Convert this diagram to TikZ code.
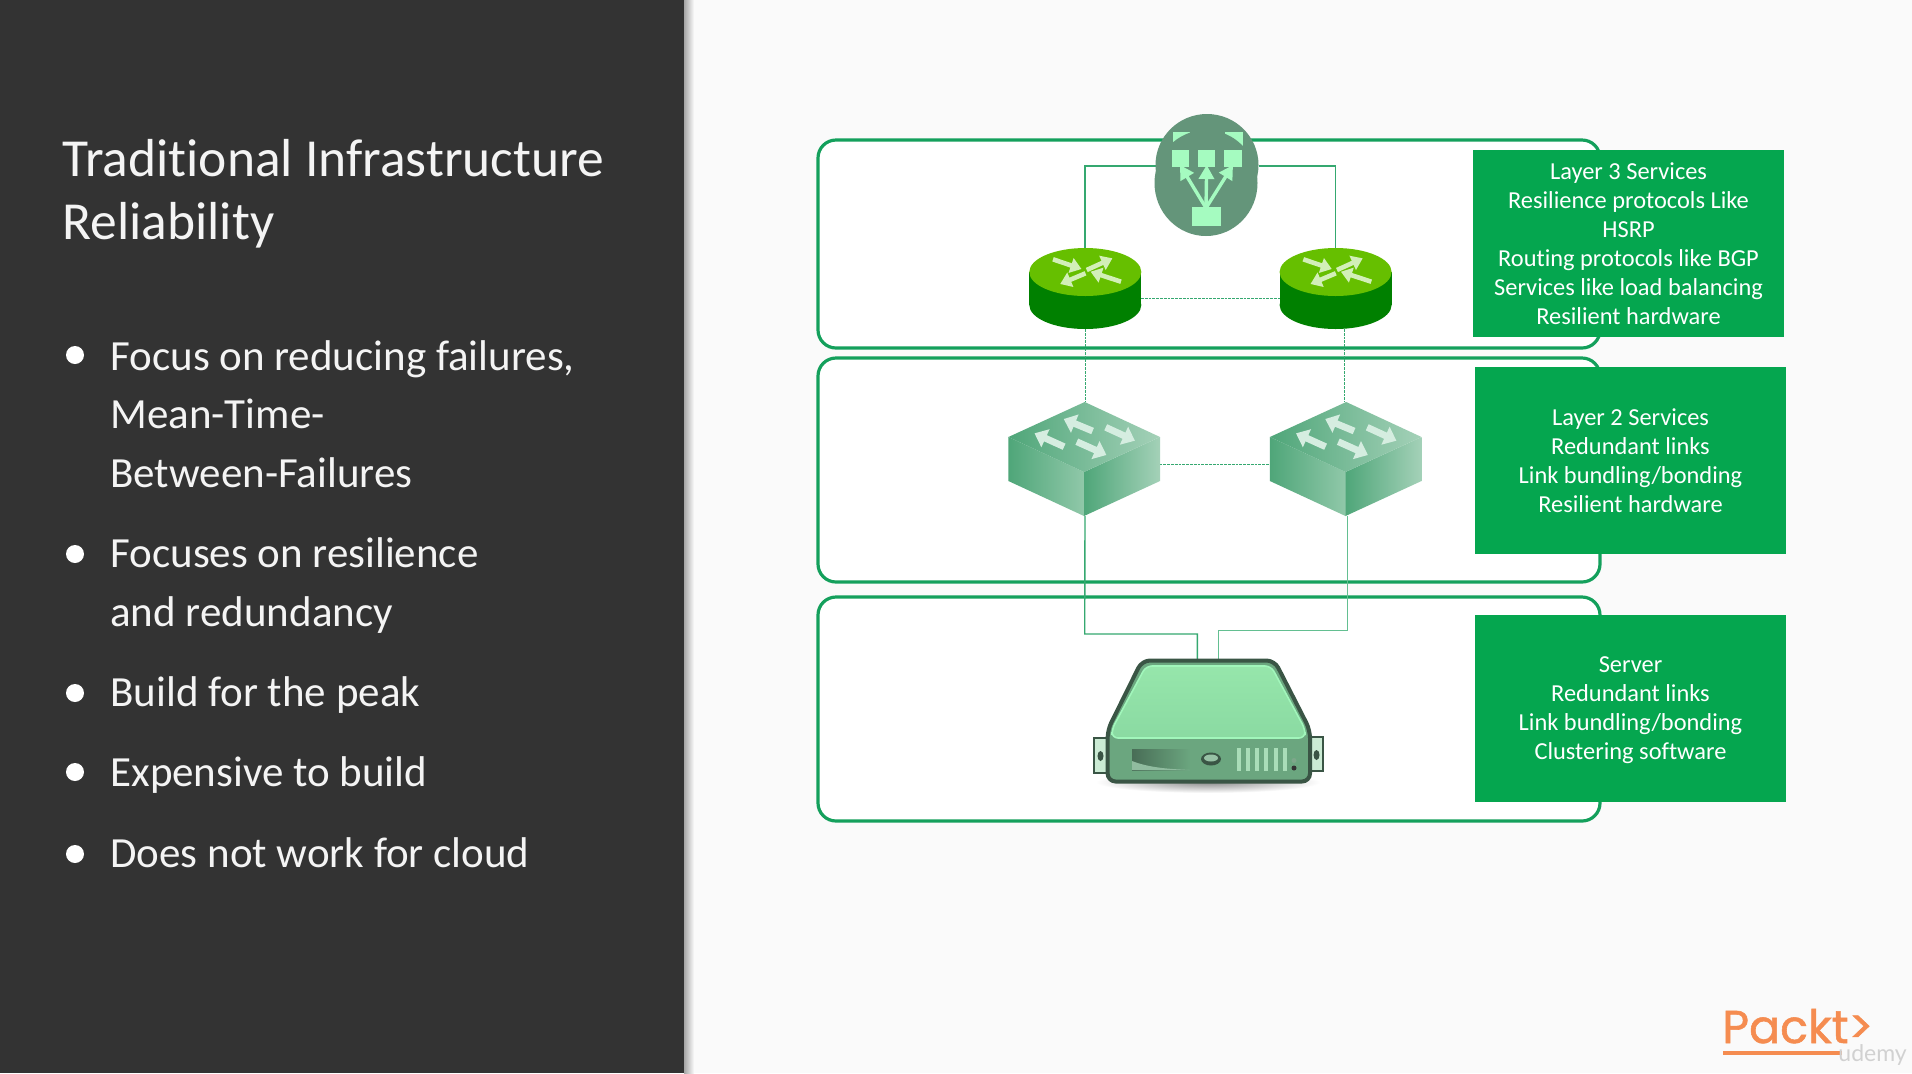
\documentclass[tikz,border=0pt]{standalone}
\usepackage{fontspec}
\setmainfont[Ligatures=NoCommon]{Carlito}
\newfontfamily\logofont[FakeBold=1.2]{Poppins}
\newfontfamily\wmfont{Lato}
\usetikzlibrary{arrows.meta}
\definecolor{panelc}{HTML}{333333}
\definecolor{bgc}{HTML}{FAFAFA}
\definecolor{boxline}{HTML}{14A05C}
\definecolor{greenbox}{HTML}{05A64F}
\definecolor{wire}{HTML}{35A870}
\definecolor{wirel}{HTML}{63BF91}
\definecolor{lbc}{HTML}{64957A}
\definecolor{lbsq}{HTML}{A5FBC0}
\definecolor{rtop}{HTML}{66BF00}
\definecolor{rbody}{HTML}{008000}
\definecolor{rarrow}{HTML}{D2EFB8}
\definecolor{swarrow}{HTML}{D5EDE0}
\definecolor{swdark}{HTML}{4FA679}
\definecolor{swmid}{HTML}{90C8A9}
\definecolor{swlight}{HTML}{A4D1B8}
\definecolor{srvdark}{HTML}{3A5545}
\definecolor{srvtop}{HTML}{96E6AB}
\definecolor{srvtopb}{HTML}{8ADAA2}
\definecolor{srvfront}{HTML}{6BA67F}
\definecolor{srvgrill}{HTML}{A9DDB8}
\definecolor{logoc}{HTML}{F58C50}
\definecolor{txtc}{HTML}{F4F4F4}
\tikzset{
  x=0.5pt,y=-0.5pt,
  layerbox/.style={draw=boxline,line width=1.6pt,fill=white,rounded corners=9pt},
  infofont/.style={text=white,align=center,inner sep=0pt,font=\fontsize{12.2}{14.5}\selectfont},
  infobox/.style={infofont,fill=greenbox,minimum width=155.5pt,minimum height=93.5pt},
  anchorbox/.style={inner sep=0pt,outer sep=0pt,draw=none},
  bullettext/.style={anchor=west,align=left,text=txtc,inner sep=0pt,font=\fontsize{21.5}{29.3}\selectfont},
  titletext/.style={anchor=base west,text=txtc,inner sep=0pt,font=\fontsize{26.75}{31}\selectfont},
  dot/.style={circle,fill=white,inner sep=0pt,minimum size=9pt},
  wireline/.style={draw=wire,line width=0.7pt},
  wirelight/.style={draw=wirel,line width=0.7pt},
  wiredash/.style={draw=wire,line width=0.5pt,dash pattern=on 1.4pt off 0.5pt},
  lbarrow/.style={draw=lbsq,line width=1.7pt,-{Triangle[length=7pt,width=7.5pt]}},
  rtarrow/.style={draw=rarrow,line width=2.3pt,-{Triangle[length=5.5pt,width=7.5pt]}},
  swarr/.style={draw=swarrow,line width=3.4pt,-{Triangle[length=6pt,width=9.5pt]}},
}
\begin{document}
\begin{tikzpicture}
\useasboundingbox (0,0) rectangle (1912,1073);
\fill[bgc] (0,0) rectangle (1912,1073);
% panel shadow and panel
\shade[left color=black!35,right color=bgc] (684,0) rectangle (694,1073);
\fill[panelc] (0,0) rectangle (684,1073);
% title
\node[titletext] (title1) at (62,176) {Traditional Infrastructure};
\node[titletext] (title2) at (62,239) {Reliability};
% bullets
\node[dot] (b1) at (75,355) {};
\node[bullettext] (t1) at (110,414) {Focus on reducing failures,\\Mean-Time-\\Between-Failures};
\node[dot] (b2) at (75,554) {};
\node[bullettext] (t2) at (110,585.5) {Focuses on resilience\\and redundancy};
\node[dot] (b3) at (75,693) {};
\node[bullettext] (t3) at (110,695.5) {Build for the peak};
\node[dot] (b4) at (75,772) {};
\node[bullettext] (t4) at (110,775.5) {Expensive to build};
\node[dot] (b5) at (75,854) {};
\node[bullettext] (t5) at (110,853) {Does not work for cloud};
% layer boxes
\draw[layerbox] (818,140) rectangle (1600,348);
\draw[layerbox] (818,358) rectangle (1600,582);
\draw[layerbox] (818,597) rectangle (1600,821);
% anchor nodes for devices
\node[anchorbox,minimum width=56pt,minimum height=40.5pt] (r1) at (1085,288.5) {};
\node[anchorbox,minimum width=56pt,minimum height=40.5pt] (r2) at (1335.5,288.5) {};
\node[anchorbox,minimum width=75.5pt,minimum height=57pt] (s1) at (1084,459) {};
\node[anchorbox,minimum width=75.5pt,minimum height=57pt] (s2) at (1346,459) {};
\node[anchorbox,minimum width=51.5pt,minimum height=30pt] (lb) at (1207,166) {};
\node[anchorbox,minimum width=84pt,minimum height=30pt] (srv) at (1208,690) {};
\coordinate (srvL) at (1197.4,660);
\coordinate (srvR) at (1218.3,660);
\coordinate (s2down) at (1347.3,516);
\coordinate (r2down) at (1344.5,329);
\coordinate (s2up) at (1344.5,402);
% connectors
\draw[wireline] (lb.west) -| (r1.north);
\draw[wireline] (lb.east) -| (r2.north);
\draw[wiredash] (r1.east |- 0,298) -- (r2.west |- 0,298);
\draw[wiredash] (r1.south) -- (s1.north -| r1.south);
\draw[wiredash] (r2down) -- (s2up);
\draw[wiredash] (s1.east |- 0,464.3) -- (s2.west |- 0,464.3);
\draw[wireline] (s1.south -| r1.south) -- (1084.7,634) -| (srvL);
\draw[wirelight] (s2down) -- (1347.3,630.7) -| (srvR);
% load balancer
\fill[lbc] (1207,165) ellipse [x radius=51.5,y radius=51];
\fill[lbsq] (1172.5,132) rectangle (1189.5,150);
\fill[lbsq!55!lbc] (1199.4,132) rectangle (1216,150);
\fill[lbsq] (1225,132) rectangle (1242.5,150);
\fill[lbc] (1206,183) ellipse [x radius=51.5,y radius=53];
\fill[lbsq] (1171.7,150) rectangle (1188.7,167.3);
\fill[lbsq] (1198.2,150) rectangle (1215.2,167.3);
\fill[lbsq] (1224.3,150) rectangle (1241.7,167.3);
\fill[lbsq] (1191.9,206.7) rectangle (1221.1,225.7);
\draw[lbarrow] (1206,208) -- (1180,165);
\draw[lbarrow] (1206,208) -- (1206.7,165);
\draw[lbarrow] (1206,208) -- (1233,165);
% routers
\foreach \dx in {0,250.3}{
\begin{scope}[shift={(\dx,0)}]
  \fill[rbody] (1029.3,272) rectangle (1141.2,305);
  \fill[rbody] (1085.3,305) ellipse [x radius=56,y radius=24];
  \fill[rtop] (1085.3,272) ellipse [x radius=56,y radius=24];
  \draw[rtarrow] (1053,259.3) -- (1081.5,269);
  \draw[rtarrow] (1086.7,270) -- (1112.4,258.3);
  \draw[rtarrow] (1085.5,273.3) -- (1060.2,284);
  \draw[rtarrow] (1121,281.7) -- (1090.6,271.7);
\end{scope}}
% switches
\foreach \dx in {0,261.5}{
\begin{scope}[shift={(\dx,0)}]
  \shade[left color=swdark,right color=swmid] (1008.4,437) -- (1084,472) -- (1084,516) -- (1008.4,481) -- cycle;
  \shade[left color=swdark,right color=swlight] (1084,472) -- (1160,437) -- (1160,481) -- (1084,516) -- cycle;
  \shade[left color=swdark,right color=swlight] (1084.7,402) -- (1160,437) -- (1084,472) -- (1008.4,437) -- cycle;
  \draw[swarr] (1092.6,431) -- (1063.7,419);
  \draw[swarr] (1105.7,427.3) -- (1134.9,440.7);
  \draw[swarr] (1064.1,446.7) -- (1034.5,433.3);
  \draw[swarr] (1076.8,441.7) -- (1106.4,455);
\end{scope}}
% server
\shade[inner color=black!45,outer color=white] (1208,782) ellipse [x radius=112,y radius=11];
\draw[srvdark,line width=1.2pt,fill=srvgrill!60!white] (1094,738) rectangle (1108,773);
\draw[srvdark,line width=1.2pt,fill=srvgrill!60!white] (1310,737) rectangle (1323,771);
\fill[srvdark] (1100.5,756) ellipse [x radius=3,y radius=5];
\fill[srvdark] (1316.5,755) ellipse [x radius=3,y radius=5];
\draw[srvdark,line width=2pt,line join=round,rounded corners=4pt,fill=srvfront] (1142,660.5) -- (1274.5,660.5) -- (1310,730) -- (1310,781.5) -- (1107.6,781.5) -- (1107.6,730) -- cycle;
\shade[top color=srvtop,bottom color=srvtopb,rounded corners=3pt] (1146,666) -- (1271,666) -- (1305,729) -- (1305,738) -- (1112,738) -- (1112,729) -- cycle;
\draw[lbsq!75!srvtop,line width=0.8pt,rounded corners=3pt] (1146,666) -- (1271,666) -- (1305,729) -- (1305,738) -- (1112,738) -- (1112,729) -- cycle;
\shade[left color=srvdark!70!srvfront,right color=srvfront] (1132,749) rectangle (1190,770);
\fill[srvfront!75!white] (1132,761) .. controls (1150,768) and (1170,769) .. (1190,770) -- (1132,770) -- cycle;
\fill[srvdark] (1211,759) ellipse [x radius=10,y radius=6.5];
\fill[srvfront!70!white] (1211,758) ellipse [x radius=7,y radius=3.5];
\foreach \gx in {1237,1246.2,1254.9,1264.4,1273.9,1283.4}
  \fill[srvgrill] (\gx,748) rectangle +(4,23);
\fill[srvgrill!60!srvdark] (1294,760.5) circle (2.5);
\fill[black!80] (1294,768) circle (2.5);
% info boxes
\node[infobox] (i1) at (1628.5,243.5) {Layer 3 Services\\Resilience protocols Like\\HSRP\\Routing protocols like BGP\\Services like load balancing\\Resilient hardware};
\node[infobox] (i2) at (1630.5,460.5) {Layer 2 Services\\Redundant links\\Link bundling/bonding\\Resilient hardware};
\node[infobox] (i3) at (1630.5,708) {};
\node[infofont] (i3t) at (1630.5,710) {Server\\Redundant links\\Link bundling/bonding\\Clustering software};
% logo
\node[anchor=base west,text=logoc,inner sep=0pt,text depth=0pt,font=\logofont\fontsize{23}{23}\selectfont] (logo) at (1722,1043) {Packt>};
\fill[logoc] (1723,1051) rectangle (1842,1055);
\node[anchor=base west,text=black!18,inner sep=0pt,font=\wmfont\fontsize{11.5}{12}\selectfont] (wm) at (1838,1061) {udemy};
\end{tikzpicture}
\end{document}
